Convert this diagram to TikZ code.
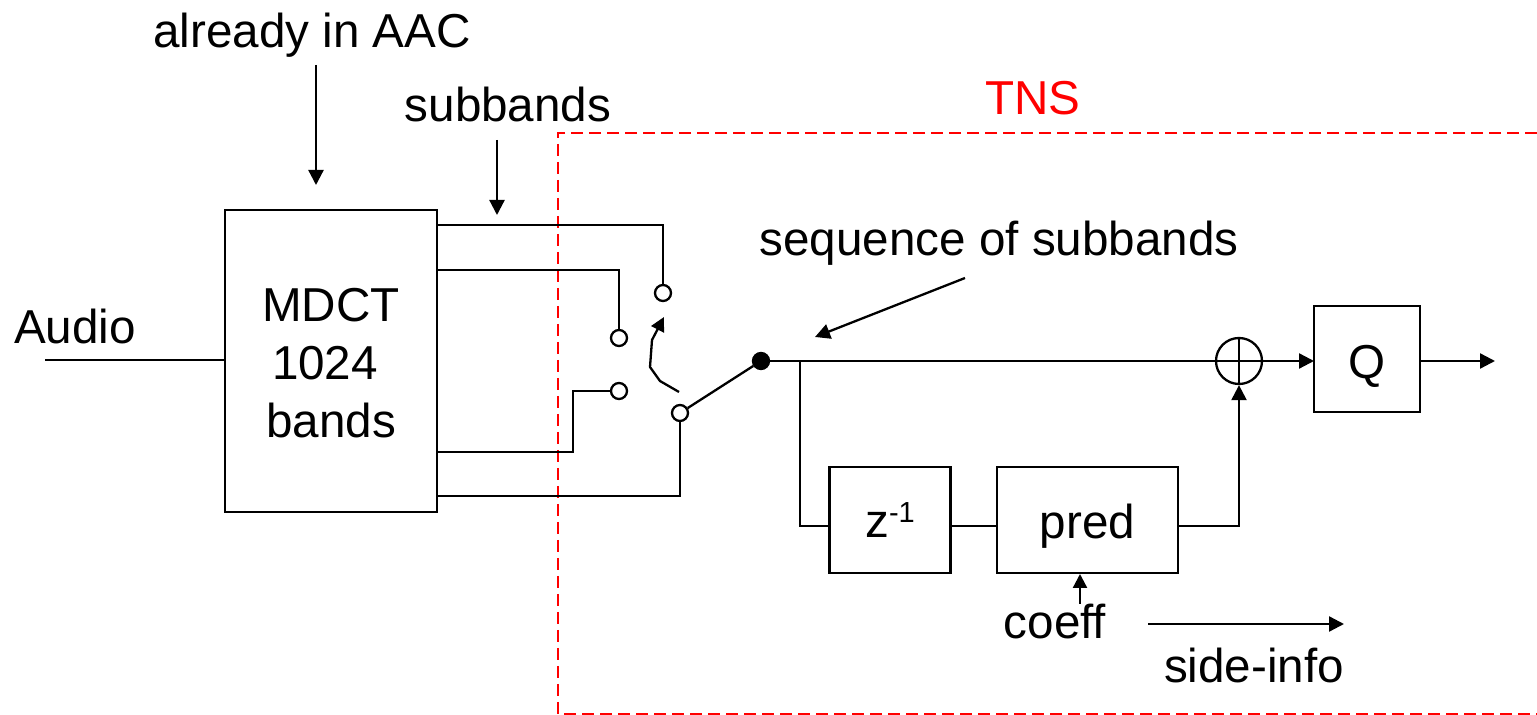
\documentclass[tikz,border=0pt]{standalone}
\usepackage{fontspec}
\setmainfont{Liberation Sans}
\usetikzlibrary{arrows.meta}

\begin{document}
\begin{tikzpicture}
[x=0.5pt,y=-0.5pt,line width=1.15pt,%
  lineDecorate/.style={-},%
  lineArrow/.style={-{Triangle[length=7.5pt,width=7.5pt]}},%
  lineSmall/.style={-{Triangle[length=7pt,width=7pt]}},%
  blockBox/.style={draw,inner sep=0pt,font=\fontsize{23.8}{29}\selectfont},%
  labelText/.style={inner sep=0pt,font=\fontsize{23.8}{29}\selectfont},%
  contact/.style={draw,circle,fill=white,inner sep=0pt,minimum size=8pt}]
\useasboundingbox (0,0) rectangle (1537,715);
%% dashed frame
\draw[red,dash pattern=on 6pt off 3pt,line width=0.8pt]
  (1537,133) -- (558,133) -- (558,714) -- (1537,714);
%% blocks
\node (mdct) at (331,361) [blockBox,align=center,minimum width=106pt,minimum height=151pt]
  {\rule{0pt}{19pt}MDCT\\1024\rule{6pt}{0pt}\\bands};
\foreach \nodename/\code/\x/\y/\w/\h/\d in {
  zinv/{z\raisebox{7.5pt}{\fontsize{14.5}{15}\selectfont -1}}/890/520/60.5/53/18,
  pred/pred/1087.5/520/90.5/53/18.4,
  quant/Q/1367/359/53/53/20}
{
  \node (\nodename) at (\x,\y) [blockBox,minimum width=\w pt,minimum height=\h pt,text height=\d pt,text depth=0pt] {\code};
}
%% texts
\foreach \nodename/\code/\x/\y in {
  aac/already in AAC/312/35, subb/subbands/508/104, audio/Audio/75/326,
  seq/sequence of subbands/999/243, coeff/coeff/1055/622, side/side-info/1254/665}
{
  \node (\nodename) at (\x,\y) [labelText] {\code};
}
\node (tns) at (1033,98) [labelText,text=red] {TNS};
%% switch contacts
\foreach \nodename/\x/\y in {
  ca/663/293, cb/619/338, cc/619/391, cd/680/413}
{
  \node (\nodename) at (\x,\y) [contact] {};
}
\node (dot) at (761,361) [contact,fill=black] {};
\node (sum) at (1239,361) [draw,circle,inner sep=0pt,minimum size=23pt] {};
%% free ends and points on the block sides
\foreach \nodename/\x/\y in {
  audioin/45/360, mdctin/225/360, qin/1314/361, qout/1420/361, out/1495/361,
  ma/437/225, mb/437/270, mc/437/452, md/437/496,
  aacs/316/65, aace/316/185, subs/497/140, sube/497/215,
  seqs/965/278, seqe/815/337, branch/800/361,
  zin/830/526, zout/951/526, pin/997/526, pout/1178/526,
  cfs/1080/604, cfe/1080/574, sis/1148/624, sie/1344/624,
  sws/679/392}
{
  \coordinate (\nodename) at (\x,\y);
}
%% edges or lines
\path
\foreach \startnode/\endnode in {
  audioin/mdctin, pin/zout, cd/dot}
{
  (\startnode) edge[lineDecorate] (\endnode)
};
\draw[lineDecorate] (ma) -| (ca);
\draw[lineDecorate] (mb) -| (cb);
\draw[lineDecorate] (mc) -- (573,452) |- (cc);
\draw[lineDecorate] (md) -| (cd);
\draw[lineDecorate] (branch) |- (zin);
\draw[lineDecorate] (sum.south) -- (sum.north);
\path
\foreach \startnode/\endnode in {
  aacs/aace, subs/sube, seqs/seqe, dot/qin, qout/out, sis/sie}
{
  (\startnode) edge[lineArrow] (\endnode)
};
\draw[lineArrow] (pout) -| (sum.south);
\draw[lineSmall] (cfs) -- (cfe);
\draw[lineSmall,line join=round] (sws) -- (660,381) -- (650,367) -- (652,340) -- (664,317);
\end{tikzpicture}
\end{document}
